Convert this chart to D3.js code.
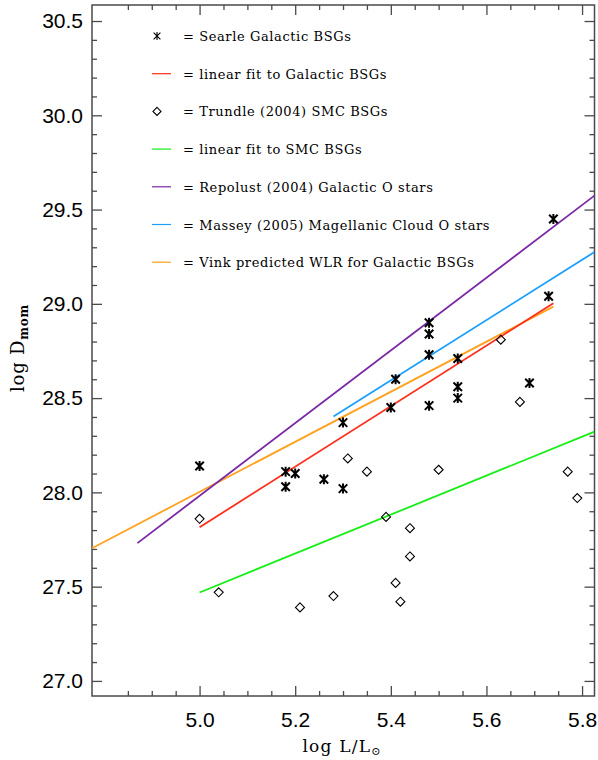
<!DOCTYPE html>
<html>
<head>
<meta charset="utf-8">
<script src="https://cdn.jsdelivr.net/npm/d3@7"></script>
<style>
  html, body { margin: 0; padding: 0; background: #fff; }
  svg { display: block; }
  .tick text { font-family: "Liberation Sans", Arial, sans-serif; font-size: 21px; fill: #000; }
  .serif { font-family: "DejaVu Serif", serif; fill: #000; }
</style>
</head>
<body>
<svg id="chart" width="598" height="760"></svg>
<script>
// Searle Galactic BSGs: log L/Lsun and log Dmom
const searleL = [5.00, 5.18, 5.20, 5.18, 5.26, 5.30, 5.30, 5.40, 5.41, 5.48, 5.48, 5.48, 5.48, 5.54, 5.54, 5.54, 5.69, 5.73, 5.74];
const searleD = [28.14, 28.11, 28.10, 28.03, 28.07, 28.02, 28.37, 28.45, 28.60, 28.90, 28.84, 28.73, 28.46, 28.71, 28.56, 28.50, 28.58, 29.04, 29.45];

// Trundle (2004) SMC BSGs
const trundleL = [5.00, 5.04, 5.21, 5.28, 5.31, 5.35, 5.39, 5.41, 5.42, 5.44, 5.44, 5.50, 5.63, 5.67, 5.77, 5.79];
const trundleD = [27.86, 27.47, 27.39, 27.45, 28.18, 28.11, 27.87, 27.52, 27.42, 27.81, 27.66, 28.12, 28.81, 28.48, 28.11, 27.97];

// Relations (end points in log L, log Dmom)
const galFitL = [5.00, 5.74],   galFitD = [27.815, 29.003];   // linear fit to Galactic BSGs
const smcFitL = [5.00, 5.826],  smcFitD = [27.469, 28.322];   // linear fit to SMC BSGs
const repolustL = [4.870, 5.826], repolustD = [27.731, 29.574]; // Repolust (2004) Galactic O stars
const masseyL = [5.28, 5.826],  masseyD = [28.402, 29.275];   // Massey (2005) MC O stars
const vinkL = [4.775, 5.74],    vinkD = [27.704, 28.985];     // Vink predicted WLR

// Axis ticks
const xMajor = [5.0, 5.2, 5.4, 5.6, 5.8];
const yMajor = [27.0, 27.5, 28.0, 28.5, 29.0, 29.5, 30.0, 30.5];

const legendLabels = [
  "= Searle Galactic BSGs",
  "= linear fit to Galactic BSGs",
  "= Trundle (2004) SMC BSGs",
  "= linear fit to SMC BSGs",
  "= Repolust (2004) Galactic O stars",
  "= Massey (2005) Magellanic Cloud O stars",
  "= Vink predicted WLR for Galactic BSGs"
];

const svg = d3.select("#chart");
const pLeft = 92, pRight = 594.5, pTop = 5, pBottom = 696;

const x = d3.scaleLinear().domain([4.775, 5.826]).range([pLeft, pRight]);
const y = d3.scaleLinear().domain([26.92, 30.585]).range([pBottom, pTop]);

const xMinor = d3.range(4.85, 5.826, 0.05).filter(v => !xMajor.some(m => Math.abs(m - v) < 1e-6));
const yMinor = d3.range(26.9, 30.6, 0.1).filter(v => v > 26.92 && v < 30.585 && !yMajor.some(m => Math.abs(m - v) < 1e-6));

const frameColor = "#4a4a4a";

// Axes with inward ticks on all four sides
function addAxis(gen, transform, values, size, labels, pad) {
  const g = svg.append("g").attr("transform", transform)
    .call(gen.tickValues(values).tickSizeInner(-size).tickSizeOuter(0).tickPadding(pad || 0)
      .tickFormat(labels ? d3.format(".1f") : ""));
  g.select(".domain").remove();
  g.selectAll(".tick line").attr("stroke", frameColor).attr("stroke-width", 1.3);
  return g;
}
addAxis(d3.axisBottom(x), `translate(0,${pBottom})`, xMajor, 10, true, 16);
addAxis(d3.axisBottom(x), `translate(0,${pBottom})`, xMinor, 5, false);
addAxis(d3.axisTop(x), `translate(0,${pTop})`, xMajor, 10, false);
addAxis(d3.axisTop(x), `translate(0,${pTop})`, xMinor, 5, false);
addAxis(d3.axisLeft(y), `translate(${pLeft},0)`, yMajor, 10, true, 9);
addAxis(d3.axisLeft(y), `translate(${pLeft},0)`, yMinor, 5, false);
addAxis(d3.axisRight(y), `translate(${pRight},0)`, yMajor, 10, false);
addAxis(d3.axisRight(y), `translate(${pRight},0)`, yMinor, 5, false);

svg.append("rect")
  .attr("x", pLeft).attr("y", pTop).attr("width", pRight - pLeft).attr("height", pBottom - pTop)
  .attr("fill", "none").attr("stroke", frameColor).attr("stroke-width", 1.5);

// Clip for the relation lines
svg.append("clipPath").attr("id", "plotClip")
  .append("rect").attr("x", pLeft).attr("y", pTop).attr("width", pRight - pLeft).attr("height", pBottom - pTop);

const plot = svg.append("g").attr("clip-path", "url(#plotClip)");
const line = d3.line().x(d => x(d[0])).y(d => y(d[1]));

const relations = [
  { L: vinkL, D: vinkD, color: "#ffa21f" },
  { L: repolustL, D: repolustD, color: "#7a27a6" },
  { L: masseyL, D: masseyD, color: "#1c9ffc" },
  { L: galFitL, D: galFitD, color: "#ff2d1a" },
  { L: smcFitL, D: smcFitD, color: "#16ee16" }
];
relations.forEach(r => {
  plot.append("path")
    .datum(d3.zip(r.L, r.D))
    .attr("d", line)
    .attr("fill", "none")
    .attr("stroke", r.color)
    .attr("stroke-width", 1.8);
});

// Asterisk symbol: vertical bar plus two diagonals
function asterisk(g, cx, cy, r, w) {
  const a = r * 0.85;
  const path = `M${cx},${cy - r}L${cx},${cy + r}` +
               `M${cx - a},${cy - a}L${cx + a},${cy + a}` +
               `M${cx + a},${cy - a}L${cx - a},${cy + a}`;
  g.append("path").attr("d", path).attr("stroke", "#000").attr("stroke-width", w).attr("fill", "none");
}
function diamond(g, cx, cy, r) {
  g.append("path")
    .attr("d", `M${cx},${cy - r}L${cx + r},${cy}L${cx},${cy + r}L${cx - r},${cy}Z`)
    .attr("fill", "none").attr("stroke", "#000").attr("stroke-width", 1.1);
}

const marks = svg.append("g");
d3.zip(trundleL, trundleD).forEach(([l, d]) => diamond(marks, x(l), y(d), 4.5));
d3.zip(searleL, searleD).forEach(([l, d]) => asterisk(marks, x(l), y(d), 5, 2));

// Legend
const legend = svg.append("g");
const legendColors = [null, "#ff2d1a", null, "#16ee16", "#7a27a6", "#1c9ffc", "#ffa21f"];
legendLabels.forEach((label, i) => {
  const cy = 36 + i * 37.7;
  if (i === 0) asterisk(legend, 157, cy, 4, 1.1);
  else if (i === 2) diamond(legend, 157, cy, 4);
  else legend.append("line").attr("x1", 152).attr("x2", 171).attr("y1", cy).attr("y2", cy)
    .attr("stroke", legendColors[i]).attr("stroke-width", 1.2);
  legend.append("text").attr("class", "serif")
    .attr("x", 183).attr("y", cy + 5)
    .attr("font-size", 13).attr("letter-spacing", 0.6)
    .text(label);
});

// Axis titles
const xt = svg.append("text").attr("class", "serif")
  .attr("x", 342).attr("y", 752).attr("text-anchor", "middle")
  .attr("font-size", 17).attr("letter-spacing", 1.2);
xt.append("tspan").text("log  L/L");
xt.append("tspan").attr("font-size", 11).attr("dy", 3).text("\u2299");

const yt = svg.append("text").attr("class", "serif")
  .attr("transform", "translate(24,348) rotate(-90)")
  .attr("text-anchor", "middle")
  .attr("font-size", 18).attr("letter-spacing", 0.8);
yt.append("tspan").text("log D");
yt.append("tspan").attr("font-size", 12).attr("dy", 4).attr("font-weight", "bold").text("mom");
</script>
</body>
</html>
